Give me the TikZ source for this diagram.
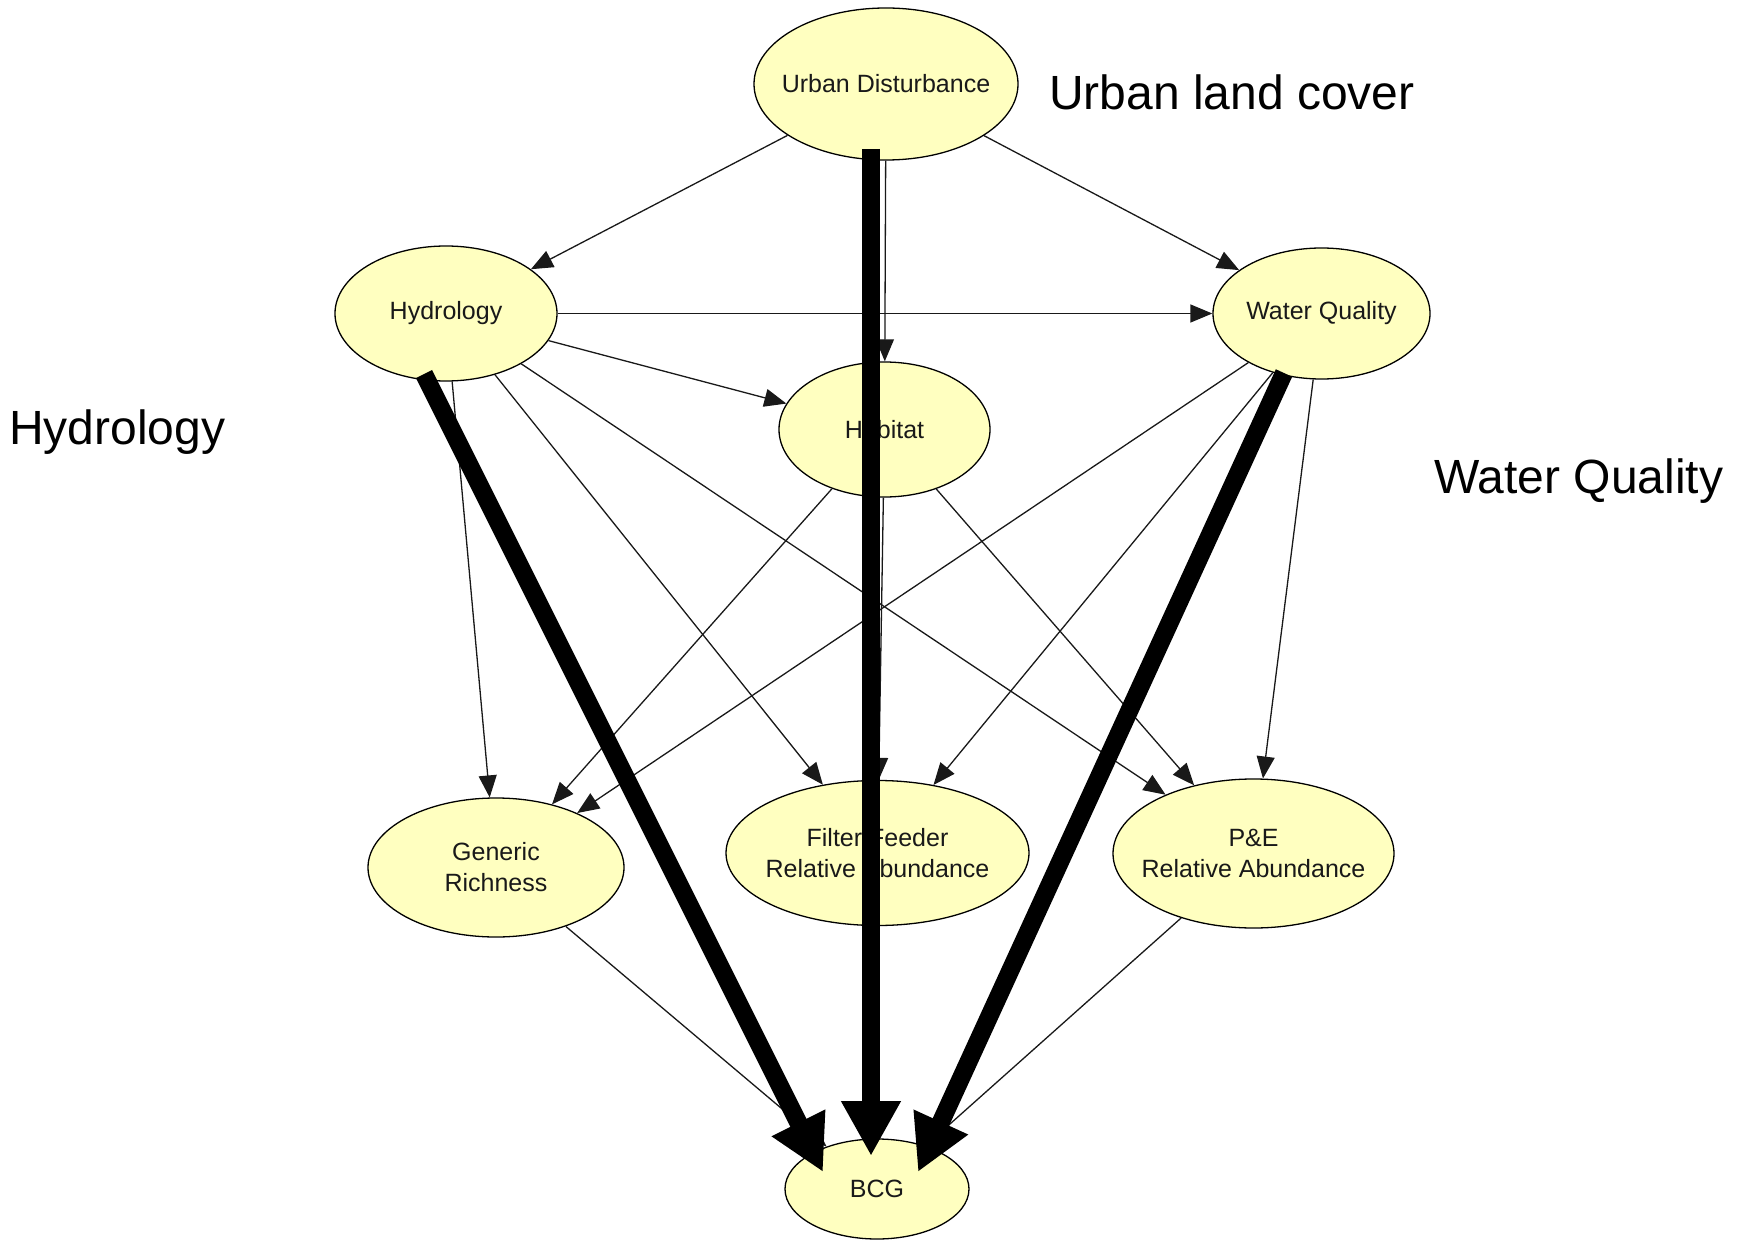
\documentclass[tikz,border=0pt]{standalone}
\usepackage{fontspec}
\setmainfont{Liberation Sans}
\usetikzlibrary{arrows.meta,shapes.geometric}
\definecolor{nodefill}{RGB}{255,255,192}
\begin{document}
\begin{tikzpicture}[x=1pt,y=-1pt,
  bubble/.style={ellipse, draw=black, line width=1.3pt, fill=nodefill, inner sep=0pt},
  btext/.style={font=\fontsize{25}{31}\selectfont, align=center, text=black!90},
  link/.style={draw=black!90, line width=1.3pt, -{Triangle[length=22pt,width=18pt]}},
  fatarrow/.style={line width=18pt, -{Triangle[length=55pt,width=56pt]}},
  heading/.style={font=\fontsize{48}{56}\selectfont, inner sep=0pt}]

% canvas
\path[use as bounding box, fill=white] (0,0) rectangle (1746,1241);

% network nodes
\node[bubble, minimum width=264pt, minimum height=152pt,
      label={[btext]center:Urban Disturbance}] (ud) at (886,84) {};
\node[bubble, minimum width=222pt, minimum height=135pt,
      label={[btext]center:Hydrology}] (hyd) at (446,313.5) {};
\node[bubble, minimum width=217pt, minimum height=131pt,
      label={[btext]center:Water Quality}] (wq) at (1321.5,313.5) {};
\node[bubble, minimum width=211pt, minimum height=135pt,
      label={[btext]center:Habitat}] (hab) at (884.5,429.5) {};
\node[bubble, minimum width=256pt, minimum height=139pt,
      label={[btext]center:Generic\\Richness}] (gr) at (496,867.5) {};
\node[bubble, minimum width=303pt, minimum height=145pt,
      label={[btext]center:Filter Feeder\\Relative Abundance}] (ff) at (877.5,853) {};
\node[bubble, minimum width=281pt, minimum height=149pt,
      label={[btext]center:P\&E\\Relative Abundance}] (pe) at (1253.5,853.5) {};
\node[bubble, minimum width=184pt, minimum height=100pt,
      label={[btext]center:BCG}] (bcg) at (877,1189) {};

% dependencies between the variables
\draw[link] (ud) -- (hyd);
\draw[link] (ud) -- (wq);
\draw[link] (ud) -- (hab);
\draw[link] (hyd) -- (wq);
\draw[link] (hyd) -- (hab);
\draw[link] (hyd) -- (gr);
\draw[link] (hyd) -- (ff);
\draw[link] (hyd) -- (pe);
\draw[link] (hab) -- (gr);
\draw[link] (hab) -- (ff);
\draw[link] (hab) -- (pe);
\draw[link] (wq) -- (gr);
\draw[link] (wq) -- (ff);
\draw[link] (wq) -- (pe);
\draw[link] (gr) -- (bcg);
\draw[link] (pe) -- (bcg);

% end points of the highlighted pathways
\coordinate (udfoot) at (871,149);
\coordinate (hydfoot) at (424,374);
\coordinate (wqfoot) at (1284,373);
\coordinate (bcgmid) at (871,1156);
\coordinate (bcgleft) at (823,1172);
\coordinate (bcgright) at (918,1172);

% highlighted pathways
\draw[fatarrow] (udfoot) -- (bcgmid);
\draw[fatarrow] (hydfoot) -- (bcgleft);
\draw[fatarrow] (wqfoot) -- (bcgright);

% side labels
\node[heading, anchor=base west] (lblurban) at (1049,110) {Urban land cover};
\node[heading, anchor=base west] (lblhyd) at (9,444) {Hydrology};
\node[heading, anchor=base west] (lblwq) at (1434,493) {Water Quality};
\end{tikzpicture}
\end{document}
